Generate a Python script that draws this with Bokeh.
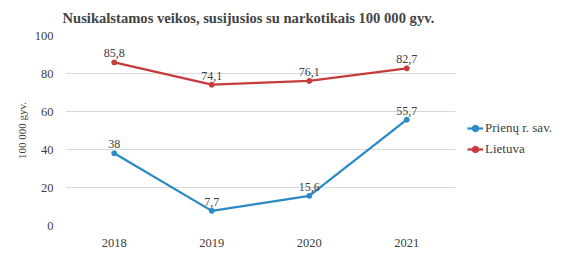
from bokeh.plotting import figure
from bokeh.models import ColumnDataSource, FactorRange, Range1d, FixedTicker, Legend, LegendItem
from bokeh.embed import file_html
from bokeh.resources import INLINE
from bokeh.core.properties import value

years = ["2018", "2019", "2020", "2021"]
prienai = [38, 7.7, 15.6, 55.7]
lietuva = [85.8, 74.1, 76.1, 82.7]
series_names = ["Prienų r. sav.", "Lietuva"]
title_text = "Nusikalstamos veikos, susijusios su narkotikais 100 000 gyv."
y_label = "100 000 gyv."
y_ticks = [0, 20, 40, 60, 80, 100]

FONT = "Liberation Serif"
BLUE = "#2b8ac6"
RED = "#c63b3b"

def fmt(v):
    return f"{v:g}".replace(".", ",")

p = figure(x_range=FactorRange(*years, range_padding=0), y_range=Range1d(0, 100),
           frame_width=390, frame_height=190,
           min_border_left=65, min_border_right=108, min_border_top=35, min_border_bottom=21,
           output_backend="svg", toolbar_location=None)
p.title.text = title_text
p.title.align = "left"
p.title.offset = -3
p.title.text_font = FONT
p.title.text_font_size = "14.6px"
p.title.text_font_style = "bold"
p.title.vertical_align = "top"
p.title.standoff = 15

p.outline_line_color = None
p.xgrid.grid_line_color = None
p.ygrid.grid_line_color = "#d9d9d9"
p.ygrid.grid_line_width = 1.2
p.yaxis.ticker = FixedTicker(ticks=y_ticks)
for ax in (p.xaxis[0], p.yaxis[0]):
    ax.axis_line_color = None
    ax.major_tick_line_color = None
    ax.minor_tick_line_color = None
    ax.major_label_text_font = FONT
    ax.major_label_text_font_size = "12.5px"
    ax.major_label_text_color = "#404040"
p.yaxis.major_label_standoff = 6
p.xaxis.major_label_standoff = 7
p.yaxis.axis_label = y_label
p.yaxis.axis_label_text_font = FONT
p.yaxis.axis_label_text_font_size = "11px"
p.yaxis.axis_label_text_font_style = "normal"
p.yaxis.axis_label_text_color = "#404040"
p.yaxis.axis_label_standoff = 4

items = []
for name, vals, col in [(series_names[0], prienai, BLUE), (series_names[1], lietuva, RED)]:
    src = ColumnDataSource(dict(x=years, y=vals, lab=[fmt(v) for v in vals]))
    l = p.line("x", "y", source=src, line_color=col, line_width=2.3)
    m = p.scatter("x", "y", source=src, marker="circle", size=5, fill_color=col, line_color=col)
    p.text("x", "y", text="lab", source=src, text_font=value(FONT), text_font_size="12px",
           text_color="#404040", text_align="center", text_baseline="bottom", y_offset=-5)
    items.append(LegendItem(label=name, renderers=[l, m]))

legend = Legend(items=items, location=(12, 66), padding=0, spacing=1, margin=0,
                glyph_width=16, glyph_height=20, label_standoff=2,
                label_text_font=FONT, label_text_font_size="13px", label_text_color="#404040",
                border_line_color=None, background_fill_alpha=0)
p.add_layout(legend, "right")

open("out.html", "w").write(file_html(p, INLINE))
